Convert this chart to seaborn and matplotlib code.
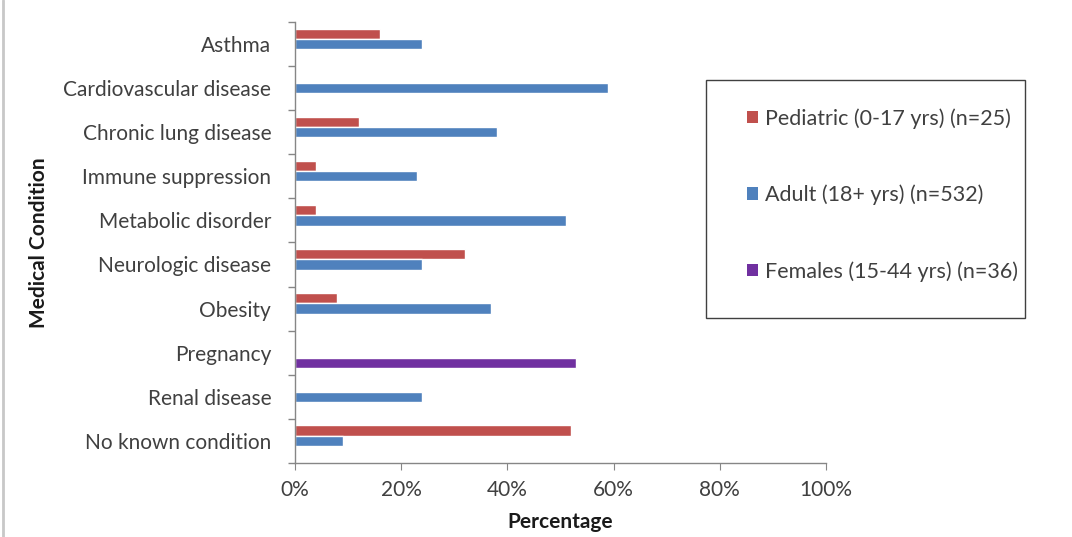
import matplotlib
matplotlib.use("Agg")
import matplotlib.pyplot as plt
import matplotlib.lines as mlines
from matplotlib.patches import Patch, Rectangle
from matplotlib.ticker import FuncFormatter
import numpy as np
import pandas as pd
import seaborn as sns

conditions = [
    "Asthma", "Cardiovascular disease", "Chronic lung disease",
    "Immune suppression", "Metabolic disorder", "Neurologic disease",
    "Obesity", "Pregnancy", "Renal disease", "No known condition",
]
pediatric = [16, 0, 12, 4, 4, 32, 8, np.nan, 0, 52]
adult = [24, 59, 38, 23, 51, 24, 37, np.nan, 24, 9]
females = [np.nan, np.nan, np.nan, np.nan, np.nan, np.nan, np.nan, 53, np.nan, np.nan]
groups = [
    "Pediatric (0-17 yrs) (n=25)",
    "Adult (18+ yrs) (n=532)",
    "Females (15-44 yrs) (n=36)",
]
colors = ["#C0504D", "#4F81BD", "#7030A0"]

df = pd.DataFrame({
    "condition": conditions * 3,
    "group": [groups[0]] * 10 + [groups[1]] * 10 + [groups[2]] * 10,
    "value": pediatric + adult + females,
})

sns.set_style("white")
plt.rcParams["font.family"] = ["Lato", "DejaVu Sans"]

W, H = 1072, 537
fig = plt.figure(figsize=(W / 100, H / 100), dpi=100)
ax = fig.add_axes([0.275, 0.138, 0.4955, 0.821])

sns.barplot(data=df, y="condition", x="value", hue="group", order=conditions,
            hue_order=groups, palette=colors, width=0.7, orient="h",
            saturation=1, legend=False, ax=ax)

ax.set_xlim(0, 100)
ax.set_ylim(9.5, -0.5)
ax.set_xticks(np.arange(0, 101, 20))
ax.xaxis.set_major_formatter(FuncFormatter(lambda v, p: f"{int(v)}%"))
ax.tick_params(axis="x", bottom=True, direction="out", length=5,
               color="#868686", labelsize=15, pad=7, labelcolor="#404040")

# category labels sit at the centres, tick marks at the boundaries
ax.set_yticks(np.arange(len(conditions)))
ax.set_yticklabels(conditions)
ax.tick_params(axis="y", which="major", left=True, length=0, labelsize=15,
               pad=17, labelcolor="#404040")
ax.set_yticks(np.arange(-0.5, len(conditions), 1.0), minor=True)
ax.tick_params(axis="y", which="minor", left=True, direction="out",
               length=5, width=1, color="#868686")

for side in ["top", "right"]:
    ax.spines[side].set_visible(False)
for side in ["left", "bottom"]:
    ax.spines[side].set_color("#868686")
    ax.spines[side].set_linewidth(1.0)

ax.set_xlabel("Percentage", fontsize=15, fontweight="bold", labelpad=9,
              color="#1a1a1a")
ax.set_ylabel("Medical Condition", fontsize=15, fontweight="bold",
              labelpad=10, color="#1a1a1a")

# legend entries, with a separate box drawn around them
handles = [Patch(facecolor=c, edgecolor="none") for c in colors]
leg = fig.legend(handles, groups, loc="upper left",
                 bbox_to_anchor=(747 / W, 1 - 108 / H),
                 frameon=False, fontsize=15.5,
                 handlelength=0.5, handleheight=0.5, handletextpad=0.35,
                 labelspacing=2.6, borderpad=0, borderaxespad=0)
for t in leg.get_texts():
    t.set_color("#404040")
fig.add_artist(Rectangle((706 / W, 1 - 318 / H), (1025 - 706) / W,
                         (318 - 80) / H, transform=fig.transFigure,
                         facecolor="none", edgecolor="#404040",
                         linewidth=1.0))

fig.add_artist(mlines.Line2D([3 / W, 3 / W], [0, 1],
                             color="#c8c8c8", linewidth=2,
                             transform=fig.transFigure))

fig.savefig("out.png", dpi=100)
